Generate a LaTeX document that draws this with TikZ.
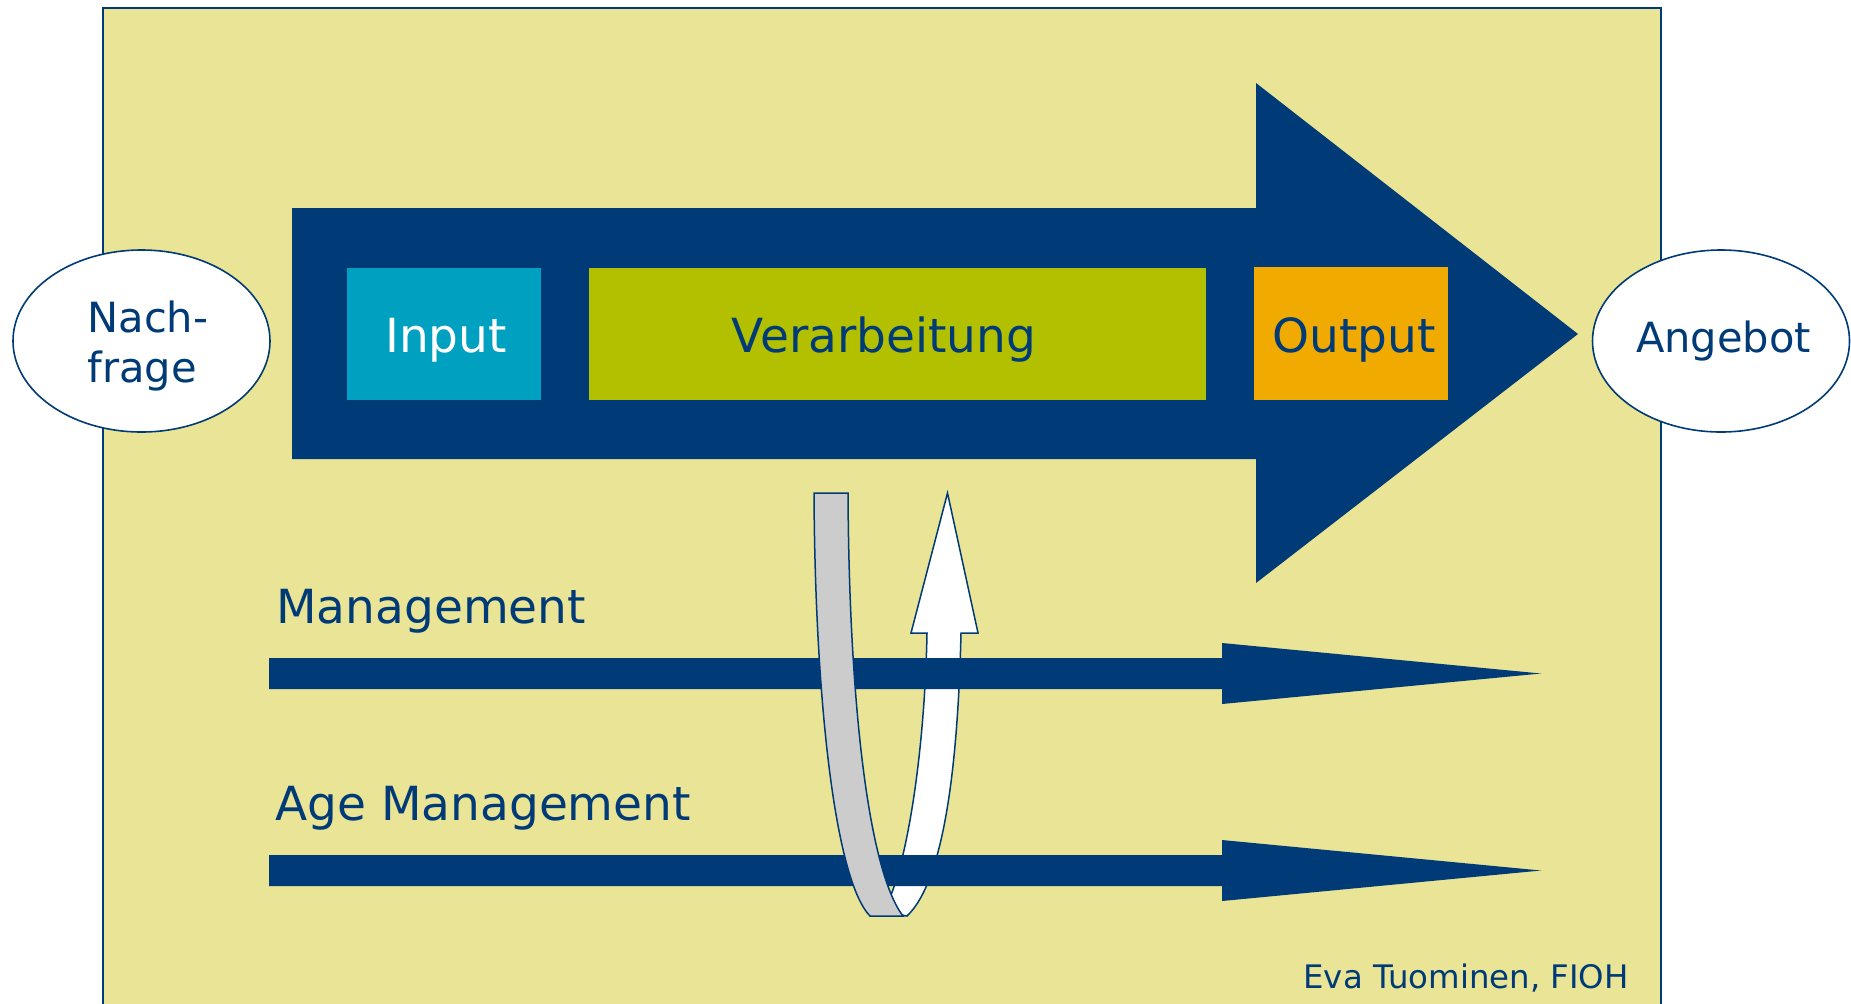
\documentclass[tikz,border=0pt]{standalone}
\usepackage{fontspec}
\setmainfont{DejaVu Sans}
\usetikzlibrary{shapes.geometric}
\definecolor{bgyellow}{RGB}{233,228,150}
\definecolor{navy}{RGB}{0,59,119}
\definecolor{tealc}{RGB}{0,160,192}
\definecolor{olive}{RGB}{178,192,0}
\definecolor{orangec}{RGB}{240,170,0}
\definecolor{grayc}{RGB}{204,204,204}
\begin{document}
\begin{tikzpicture}[x=0.5pt,y=-0.5pt,
  oval/.style={ellipse, draw=navy, fill=white, line width=0.8pt, inner sep=0,
    minimum width=128.5pt, minimum height=91pt},
  procbox/.style={inner sep=0, anchor=north west, minimum height=66pt},
  bigtxt/.style={inner sep=0, font=\fontsize{23.5}{28}\selectfont},
  ovaltxt/.style={inner sep=0, text=navy, font=\fontsize{20.8}{25}\selectfont},
  ribbon/.style={draw=navy, line width=0.75pt, line join=miter}]
\useasboundingbox (0,0) rectangle (1851,1003);
% background panel
\fill[bgyellow] (103,8) rectangle (1661,1010);
\draw[navy, line width=1pt] (103,1010) -- (103,8) -- (1661,8) -- (1661,1010);

% demand / supply ellipses
\node[oval] (nachfrage) at (141.5,341) {};
\node[ovaltxt, anchor=base west] (nach) at (87,332) {Nach-};
\node[ovaltxt, anchor=base west] (frage) at (87,382) {frage};
\node[oval] (angebot) at (1721,341) {};
\node[ovaltxt, anchor=base] (angebottxt) at (1723.5,352) {Angebot};

% big process arrow
\fill[navy] (292,208) -- (1256,208) -- (1256,83) -- (1578,334) -- (1256,583)
  -- (1256,459) -- (292,459) -- cycle;

% process boxes
\node[procbox, fill=tealc, minimum width=97pt] (inbox) at (347,268) {};
\node[procbox, fill=olive, minimum width=308.5pt] (verbox) at (589,268) {};
\node[procbox, fill=orangec, minimum width=97pt, minimum height=66.5pt] (outbox) at (1254,267) {};
\node[bigtxt, anchor=base, text=white] (input) at (446,352) {Input};
\node[bigtxt, anchor=base, text=navy] (verarb) at (884,352) {Verarbeitung};
\node[bigtxt, anchor=base, text=navy] (output) at (1354,352) {Output};

% white upward part of the loop arrow (behind the bars)
\filldraw[ribbon, fill=white] (889,900) .. controls (910,850) and (925,740) .. (927,633)
  -- (911,633) -- (947.5,493) -- (978,633) -- (961,633)
  .. controls (958,760) and (945,880) .. (907,916)
  .. controls (900,916) and (893,908) .. (889,900) -- cycle;

% management arrows
\fill[navy] (269,658) -- (1222,658) -- (1222,643) -- (1541,673.5) -- (1222,704)
  -- (1222,689) -- (269,689) -- cycle;
\fill[navy] (269,855) -- (1222,855) -- (1222,840) -- (1541,870.5) -- (1222,901)
  -- (1222,886) -- (269,886) -- cycle;
\node[bigtxt, anchor=base west, text=navy] (mgmt) at (276,623) {Management};
\node[bigtxt, anchor=base west, text=navy] (agemgmt) at (275,820) {Age Management};

% grey downward part of the loop arrow (in front of the bars)
\filldraw[ribbon, fill=grayc] (814,493) -- (848,493)
  .. controls (849,700) and (868,870) .. (903,916)
  -- (870,916) .. controls (835,880) and (815,700) .. (814,493) -- cycle;

% credit
\node[inner sep=0, anchor=base west, text=navy, font=\fontsize{16.2}{20}\selectfont] (credit) at (1303,988) {Eva Tuominen, FIOH};
\end{tikzpicture}
\end{document}
